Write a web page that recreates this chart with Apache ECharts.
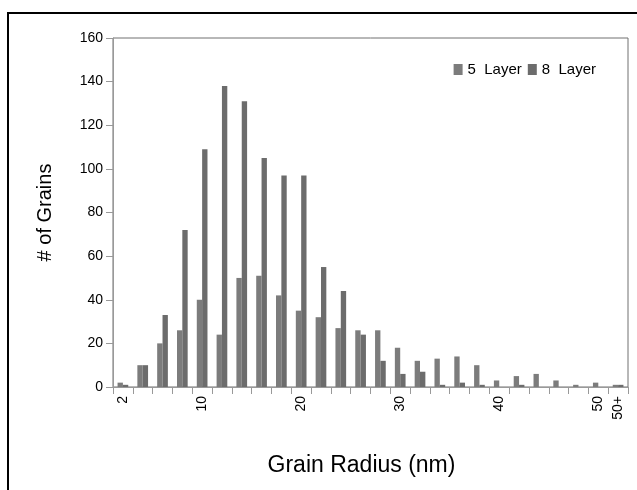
<!DOCTYPE html>
<html>
<head>
<meta charset="utf-8">
<script src="https://cdn.jsdelivr.net/npm/echarts@6/dist/echarts.min.js"></script>
<style>
  html, body { margin: 0; padding: 0; background: #fff; }
  #chart { width: 637px; height: 490px; }
</style>
</head>
<body>
<div id="chart"></div>
<script>
// bins of grain radius (nm)
var categories = ['2','4','6','8','10','12','14','16','18','20','22','24','26','28','30',
                  '32','34','36','38','40','42','44','46','48','50','50+'];
var shownLabels = ['2','10','20','30','40','50','50+'];
var layer5 = [2, 10, 20, 26, 40, 24, 50, 51, 42, 35, 32, 27, 26, 26, 18,
              12, 13, 14, 10, 3, 5, 6, 3, 1, 2, 1];
var layer8 = [1, 10, 33, 72, 109, 138, 131, 105, 97, 97, 55, 44, 24, 12, 6,
              7, 1, 2, 1, 0, 1, 0, 0, 0, 0, 1];
var yTicks = [0, 20, 40, 60, 80, 100, 120, 140, 160];

var chart = echarts.init(document.getElementById('chart'));
var font = 'Liberation Sans, Arial, sans-serif';

var option = {
  animation: false,
  textStyle: { fontFamily: font },
  graphic: [{
    type: 'rect',
    shape: { x: 8, y: 13, width: 640, height: 490 },
    style: { fill: 'none', stroke: '#000', lineWidth: 2 },
    silent: true
  }],
  legend: {
    right: 36,
    top: 57,
    icon: 'rect',
    itemWidth: 9,
    itemHeight: 11,
    itemGap: 6,
    textStyle: { fontSize: 15, color: '#000', fontFamily: font },
    data: ['5  Layer', '8  Layer']
  },
  grid: {
    left: 113, right: 9, top: 38, bottom: 103,
    show: true, borderColor: '#707070', borderWidth: 1
  },
  xAxis: {
    type: 'category',
    data: categories,
    name: 'Grain Radius (nm)',
    nameLocation: 'middle',
    nameGap: 67,
    nameTextStyle: { fontSize: 23, color: '#000', fontFamily: font, padding: [0, 18, 0, 0] },
    axisLine: { lineStyle: { color: '#999' } },
    axisTick: { show: true, interval: 0, length: 7, lineStyle: { color: '#999' } },
    axisLabel: {
      rotate: 90,
      fontSize: 14,
      color: '#000',
      margin: 9,
      interval: function (i, v) { return shownLabels.indexOf(v) >= 0; }
    }
  },
  yAxis: {
    type: 'value',
    min: 0, max: 160, interval: 20,
    name: '# of Grains',
    nameLocation: 'middle',
    nameGap: 58,
    nameTextStyle: { fontSize: 20, color: '#000', fontFamily: font },
    axisLine: { show: true, lineStyle: { color: '#999' } },
    axisTick: { show: true, length: 7, lineStyle: { color: '#999' } },
    splitLine: { show: false },
    axisLabel: {
      fontSize: 14, color: '#000', margin: 10,
      formatter: function (v) { return yTicks.indexOf(v) >= 0 ? String(v) : ''; }
    }
  },
  series: [{
    name: '5  Layer',
    type: 'bar',
    data: layer5,
    barGap: '0%',
    barCategoryGap: '46%',
    itemStyle: { color: '#7c7c7c' }
  }, {
    name: '8  Layer',
    type: 'bar',
    data: layer8,
    itemStyle: { color: '#6c6c6c' }
  }]
};

chart.setOption(option);
</script>
</body>
</html>
